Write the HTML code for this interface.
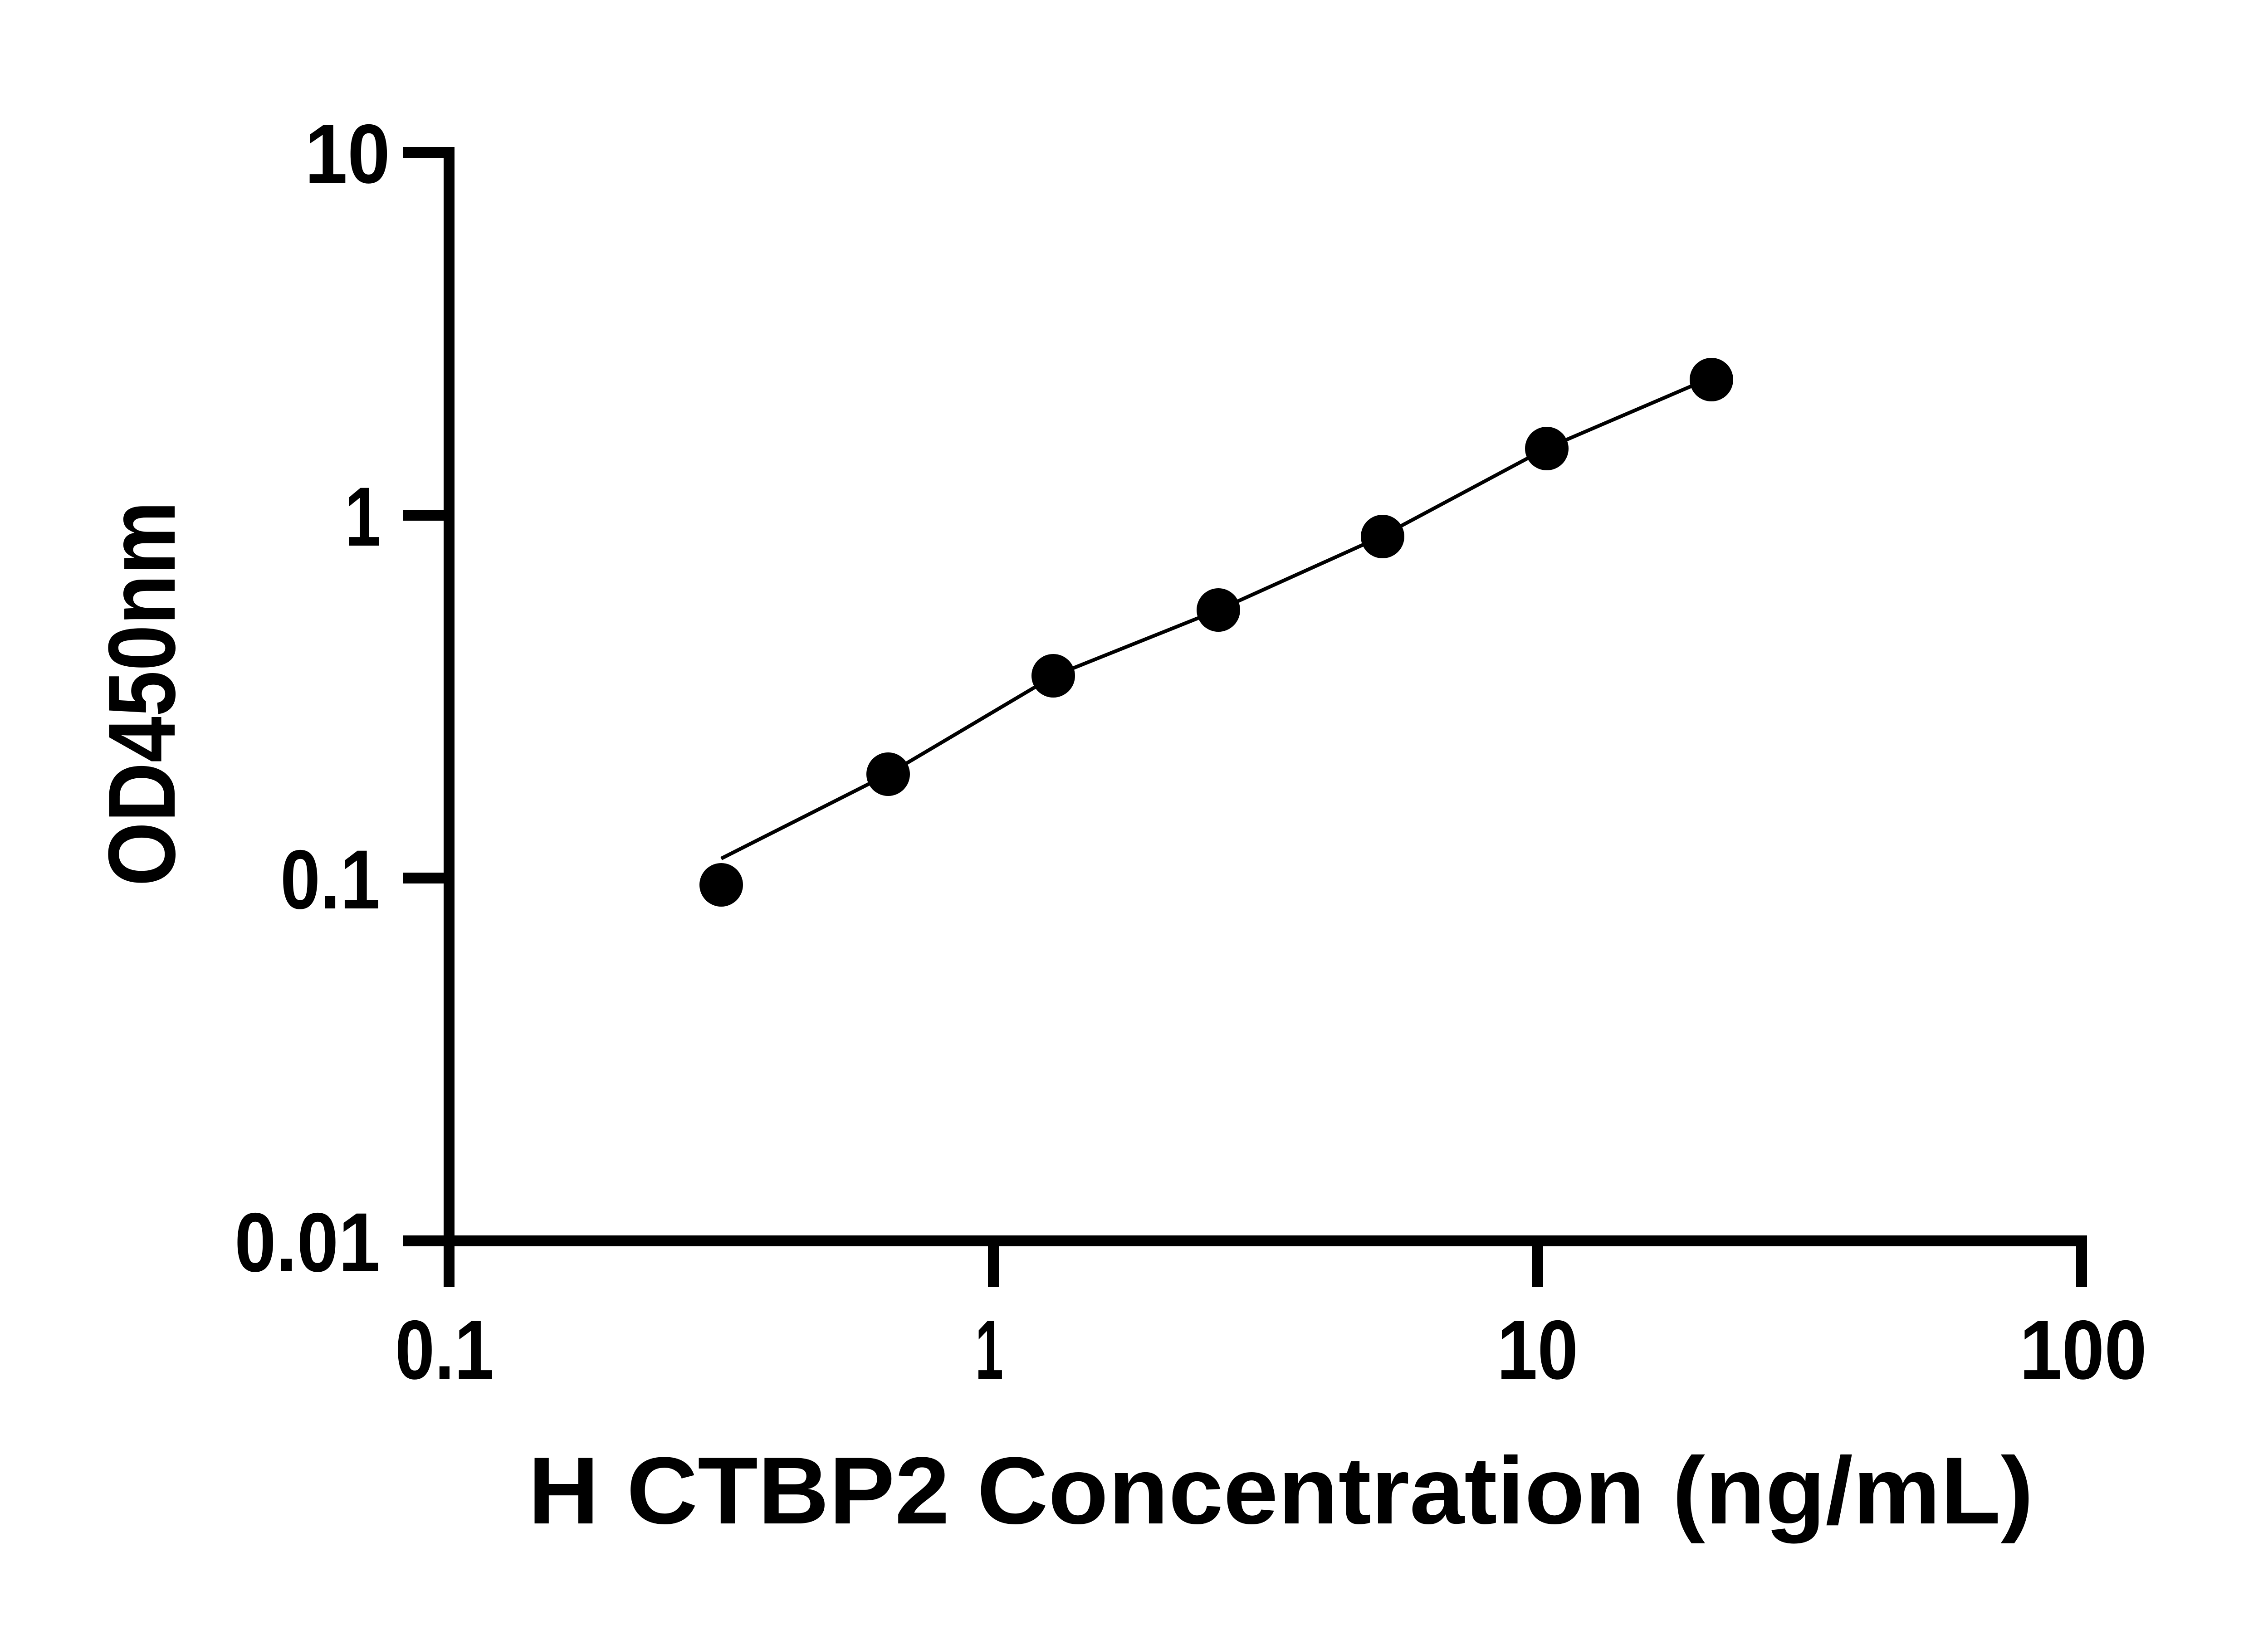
<!DOCTYPE html>
<html><head><meta charset="utf-8"><style>html,body{margin:0;padding:0;background:#fff}</style></head>
<body>
<svg width="5142" height="3600" xmlns="http://www.w3.org/2000/svg" font-family="Liberation Sans, sans-serif" font-weight="bold" fill="#000">
<rect width="5142" height="3600" fill="#fff"/>
<g stroke="#000" stroke-width="24" fill="none">
<line x1="990" y1="324" x2="990" y2="2838"/>
<line x1="978" y1="2736" x2="4601" y2="2736"/>
<line x1="888" y1="336" x2="1002" y2="336"/>
<line x1="888" y1="1136" x2="1002" y2="1136"/>
<line x1="888" y1="1936" x2="1002" y2="1936"/>
<line x1="888" y1="2736" x2="1002" y2="2736"/>
<line x1="2190" y1="2724" x2="2190" y2="2838"/>
<line x1="3390" y1="2724" x2="3390" y2="2838"/>
<line x1="4589" y1="2724" x2="4589" y2="2838"/>
</g>
<polyline fill="none" stroke="#000" stroke-width="8" points="1590,1893 1958,1707 2324,1490 2686,1345 3045,1183 3408,989 3760,838"/>
<g>
<circle cx="1590" cy="1951" r="48"/>
<circle cx="1958" cy="1707" r="48"/>
<circle cx="2322" cy="1490" r="48"/>
<circle cx="2686" cy="1345" r="48"/>
<circle cx="3048" cy="1183" r="48"/>
<circle cx="3410" cy="989" r="48"/>
<circle cx="3773" cy="837" r="48"/>
</g>
<g font-size="185">
<text x="672" y="403" textLength="188" lengthAdjust="spacingAndGlyphs">10</text>
<text x="760" y="1203" textLength="80" lengthAdjust="spacingAndGlyphs">1</text>
<text x="618" y="2003" textLength="220" lengthAdjust="spacingAndGlyphs">0.1</text>
<text x="517" y="2803" textLength="321" lengthAdjust="spacingAndGlyphs">0.01</text>
<text x="871" y="3040" textLength="218" lengthAdjust="spacingAndGlyphs">0.1</text>
<text x="2150" y="3040" textLength="62" lengthAdjust="spacingAndGlyphs">1</text>
<text x="3300" y="3040" textLength="179" lengthAdjust="spacingAndGlyphs">10</text>
<text x="4452" y="3040" textLength="281" lengthAdjust="spacingAndGlyphs">100</text>
</g>
<text x="1164" y="3359" font-size="210" textLength="3319" lengthAdjust="spacingAndGlyphs">H CTBP2 Concentration (ng/mL)</text>
<text transform="translate(385,1954) rotate(-90)" font-size="210" textLength="849" lengthAdjust="spacingAndGlyphs">OD450nm</text>
</svg>
</body></html>
